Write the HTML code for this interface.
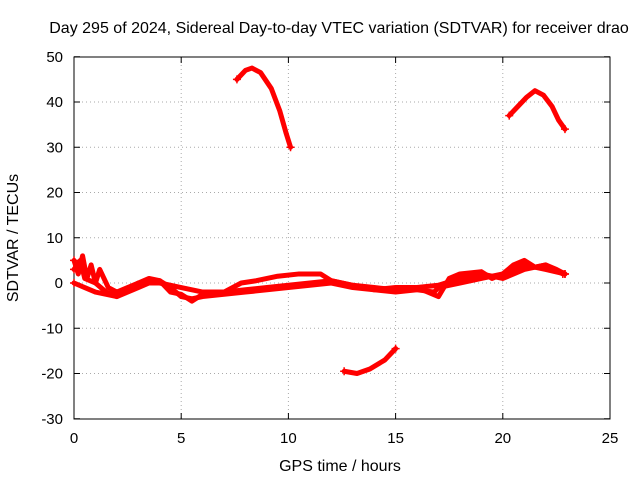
<!DOCTYPE html>
<html><head><meta charset="utf-8"><style>
body{margin:0;background:#fff;}
svg text{font-family:"Liberation Sans",sans-serif;font-size:15px;fill:#000;}
svg text.big{font-size:16px;}
</style></head><body>
<svg width="640" height="480">
<rect width="640" height="480" fill="#fff"/>
<g id="grid"></g>
<rect x="74" y="57" width="536" height="362" fill="none" stroke="#000"/>
<g id="ticks"></g>
<g id="series"></g>
<text class="big" x="339" y="33" text-anchor="middle">Day 295 of 2024, Sidereal Day-to-day VTEC variation (SDTVAR) for receiver drao</text>
<text class="big" x="340" y="471" text-anchor="middle">GPS time / hours</text>
<text class="big" x="18" y="238" text-anchor="middle" transform="rotate(-90 18 238)">SDTVAR / TECUs</text>
</svg>
<script>
const xTicks=[0,5,10,15,20,25];
const yTicks=[-30,-20,-10,0,10,20,30,40,50];
const segArc1X=[7.6,8.0,8.3,8.7,9.2,9.6,9.9,10.1];
const segArc1Y=[45,47,47.5,46.5,43,38,33,30];
const segArc2X=[20.3,20.7,21.1,21.5,21.9,22.3,22.6,22.9];
const segArc2Y=[37,39,41,42.5,41.5,39,36,34];
const segLowX=[12.6,13.2,13.8,14.5,15];
const segLowY=[-19.5,-20,-19,-17,-14.5];
const bandAX=[0,0.3,0.5,1,1.5,2,2.5,3,3.5,4,4.5,5,5.5,6,7,8,9,10,11,12,13,14,15,16,16.8,17,18,19,20,21,22,22.9];
const bandAY=[3,5,1,0,-2,-3,-2,-1,0,0.5,-1,-3,-3.5,-3,-2.5,-2,-1.5,-1,-0.5,0,-1,-1.5,-2,-1.5,-2,-1,0,1,2,4,3,2];
const bandBX=[0,0.2,0.4,0.6,0.8,1.0,1.2,1.6,2.0,2.5,3,3.5,4,4.5,5,5.5,6,7,7.8,8.5,9.5,10.5,11.5,12,13,14,15,16,17,17.5,18,19,19.5,20,20.5,21,21.5,22,22.5,22.9];
const bandBY=[5,2,6,1,4,0,3,-1,-2,-1,0,1,0.5,-2,-2.5,-4,-2.5,-2,0,0.5,1.5,2,2,0.5,-0.5,-1.5,-1,-1,-3,1,2,2.5,1,2,4,5,3.5,4,3,2];
const bandCX=[0,0.5,1,1.5,2,3,4,5,6,7,8,9,10,11,12,13,14,15,16,17,18,19,20,21,22,22.8];
const bandCY=[0,-1,-2,-2.5,-3,0,0,-1,-2,-2,-1.5,-1,-0.5,0,0.5,-0.5,-1,-1.5,-1,-0.5,1,2,1,3,4,2];
const X=v=>74+v*536/25, Y=v=>283-v*362/80;
const NS="http://www.w3.org/2000/svg";
const grid=document.getElementById('grid'),ticks=document.getElementById('ticks'),ser=document.getElementById('series');
function mk(tag,attrs,parent){const e=document.createElementNS(NS,tag);for(const k in attrs)e.setAttribute(k,attrs[k]);parent.appendChild(e);return e;}
xTicks.forEach(t=>{
 if(t>0&&t<25){const g=mk('line',{x1:X(t),x2:X(t),y1:57,y2:419,stroke:'#aaa','stroke-dasharray':'1,3'},grid);
 
 }
 mk('line',{x1:X(t),x2:X(t),y1:419,y2:413,stroke:'#000'},ticks);
 mk('line',{x1:X(t),x2:X(t),y1:57,y2:63,stroke:'#000'},ticks);
 const l=mk('text',{x:X(t),y:443,'text-anchor':'middle'},ticks);l.textContent=t;
 
 
});
yTicks.forEach(t=>{
 if(t>-30&&t<50){const g=mk('line',{x1:74,x2:610,y1:Y(t),y2:Y(t),stroke:'#aaa','stroke-dasharray':'1,3'},grid);
 
 }
 mk('line',{x1:74,x2:80,y1:Y(t),y2:Y(t),stroke:'#000'},ticks);
 mk('line',{x1:610,x2:604,y1:Y(t),y2:Y(t),stroke:'#000'},ticks);
 const l=mk('text',{x:63,y:Y(t)+5,'text-anchor':'end'},ticks);l.textContent=t;
 
 
});
function draw(xs,ys,name,w){
 const p=mk('polyline',{points:xs.map((x,i)=>X(x)+','+Y(ys[i])).join(' '),fill:'none',stroke:'#f00','stroke-width':w,'stroke-linejoin':'round','stroke-linecap':'round'},ser);
 
 
 [0,xs.length-1].forEach(i=>{const m=mk('path',{d:`M${X(xs[i])-4},${Y(ys[i])}h8M${X(xs[i])},${Y(ys[i])-4}v8`,stroke:'#f00','stroke-width':1.5},ser);
 
 });
}
draw(bandCX,bandCY,'sdtvar-band-c',5);
draw(bandAX,bandAY,'sdtvar-band-a',5);
draw(bandBX,bandBY,'sdtvar-band-b',5);
draw(segArc1X,segArc1Y,'sdtvar-arc-morning',5);
draw(segArc2X,segArc2Y,'sdtvar-arc-evening',5);
draw(segLowX,segLowY,'sdtvar-low-arc',5);
</script>
</body></html>
